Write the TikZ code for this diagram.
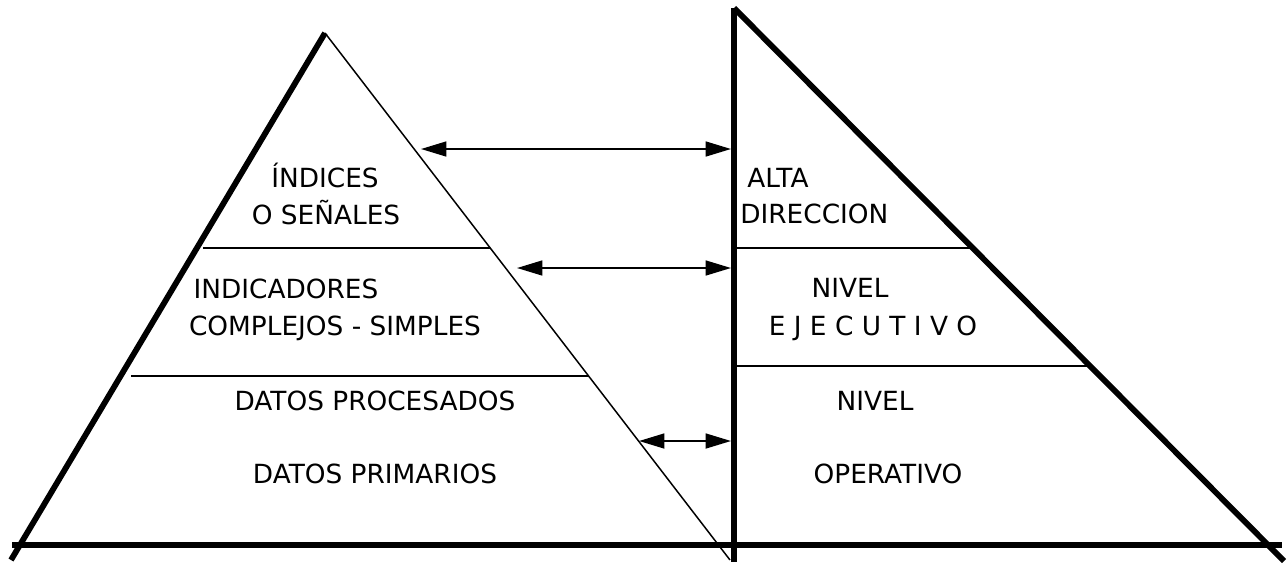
\documentclass[tikz,border=0pt]{standalone}
\usepackage{fontspec}
\setmainfont{DejaVu Sans}
\usetikzlibrary{arrows.meta}

\begin{document}
\begin{tikzpicture}
[x=0.02cm,y=-0.02cm,%
  every node/.style={inner sep=0pt,anchor=base,font=\fontsize{15}{18}\selectfont},%
  heavy/.style={line width=3.3pt},%
  light/.style={line width=0.85pt},%
  link/.style={line width=1.1pt,{Triangle[length=14.5pt,width=8.5pt]}-{Triangle[length=14.5pt,width=8.5pt]}}]
\useasboundingbox (0,0) rectangle (1287,562);
% left pyramid
\coordinate (apex) at (325,33);
\coordinate (lfoot) at (11,560);
\coordinate (rfoot) at (730,560);
\draw[heavy] (apex) -- (lfoot);
\draw[light] (apex) -- (rfoot);
\draw[light] (203,248) -- (490,248);
\draw[light] (131,376) -- (589,376);
% right triangle
\coordinate (top) at (734,8);
\coordinate (vfoot) at (734,562);
\coordinate (hfoot) at (1284,561);
\draw[heavy] (top) -- (vfoot);
\draw[heavy] (top) -- (hfoot);
\draw[light] (734,248) -- (971,248);
\draw[light] (734,366) -- (1089,366);
% ground line
\draw[heavy] (12,545) -- (1282,545);
% texts
\node (indices) at (325,187) {ÍNDICES};
\node (senales) at (326,224) {O SEÑALES};
\node (indicadores) at (286,298) {INDICADORES};
\node (complejos) at (335,335) {COMPLEJOS - SIMPLES};
\node (procesados) at (375,410) {DATOS PROCESADOS};
\node (primarios) at (375,483) {DATOS PRIMARIOS};
\node[anchor=base west] (alta) at (747,187) {ALTA};
\node[anchor=base west] (direccion) at (740,223) {DIRECCION};
\node (nivelA) at (850,297) {NIVEL};
\node (ejecutivo) at (873,335) {E J E C U T I V O};
\node (nivelB) at (875,410) {NIVEL};
\node (operativo) at (888,483) {OPERATIVO};
% arrows
\coordinate (a1) at (421,149);
\coordinate (b1) at (731,149);
\coordinate (a2) at (517,268);
\coordinate (b2) at (731,268);
\coordinate (a3) at (639,441);
\coordinate (b3) at (731,441);
\draw[link] (a1) -- (b1);
\draw[link] (a2) -- (b2);
\draw[link] (a3) -- (b3);
\end{tikzpicture}
\end{document}
